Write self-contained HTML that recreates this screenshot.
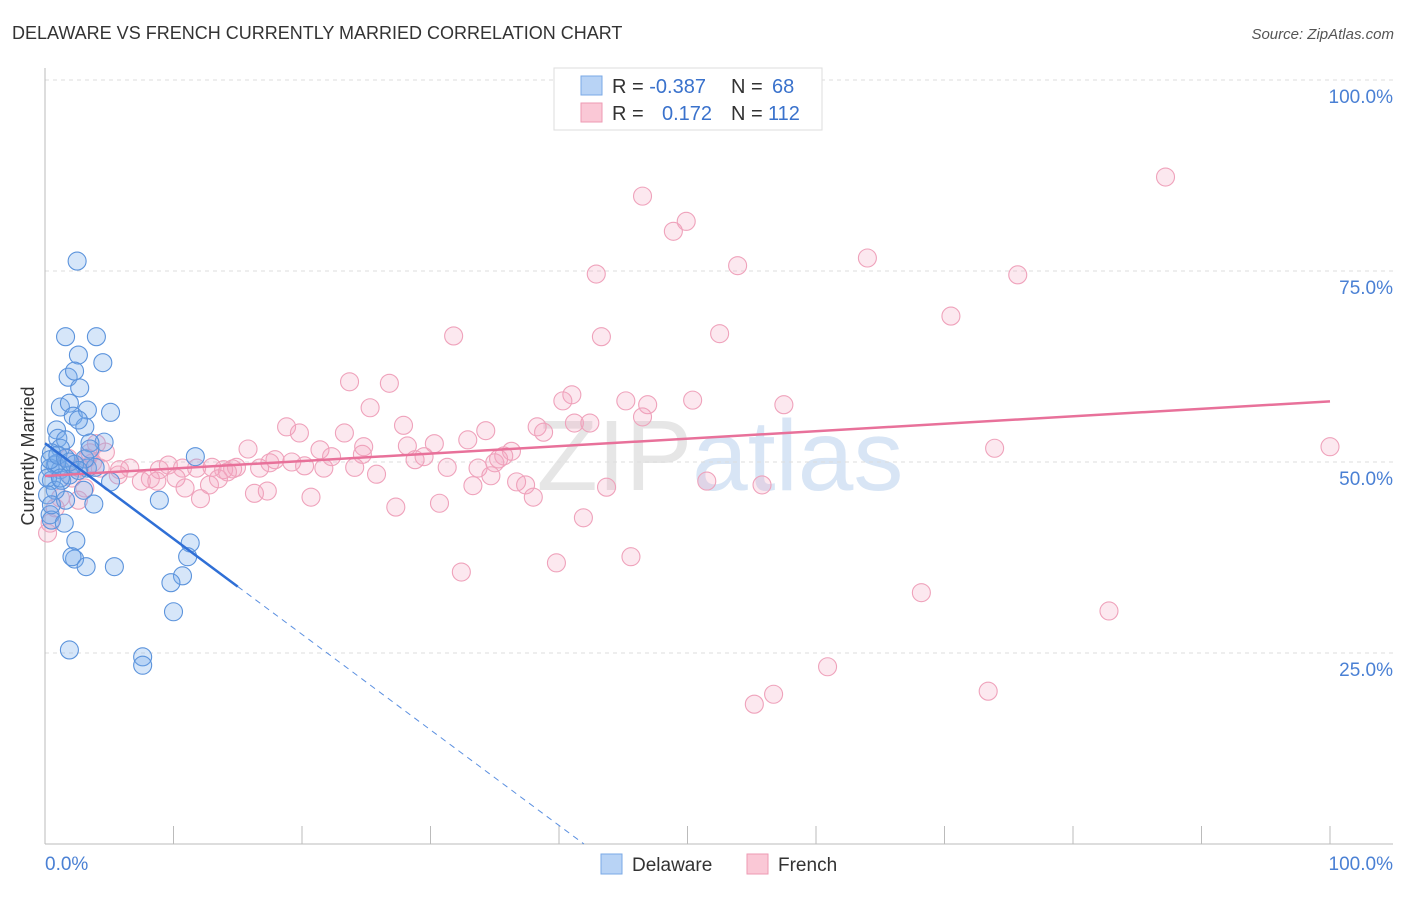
<!DOCTYPE html>
<html><head><meta charset="utf-8"><style>
body{margin:0;background:#fff;font-family:"Liberation Sans",sans-serif}
svg text{font-family:"Liberation Sans",sans-serif}
</style></head><body>
<svg width="1406" height="892" id="c">
<text x="12" y="39" font-size="18" fill="#333">DELAWARE VS FRENCH CURRENTLY MARRIED CORRELATION CHART</text>
<text x="1394" y="39" font-size="15" fill="#555" font-style="italic" text-anchor="end">Source: ZipAtlas.com</text>
<text x="34" y="456" font-size="18" fill="#333" text-anchor="middle" transform="rotate(-90 34 456)">Currently Married</text>
<text x="720" y="490" font-size="100" fill="#e6e6e6" text-anchor="middle" font-family="Liberation Serif">ZIP<tspan fill="#d8e5f5" font-family="Liberation Sans">atlas</tspan></text>
<g id="grid"></g><g id="pts"></g><g id="lines"></g>
<g>
<rect x="554" y="68" width="268" height="62" fill="#fff" stroke="#ddd"/>
<rect x="581" y="76" width="21" height="19" fill="#b8d3f5" stroke="#7aa8e6"/>
<rect x="581" y="103" width="21" height="19" fill="#fac8d6" stroke="#ee9ab3"/>
<text x="612" y="93" font-size="20" fill="#333">R = <tspan fill="#3a72cc">-0.387</tspan><tspan x="731">N = </tspan><tspan fill="#3a72cc" x="772">68</tspan></text>
<text x="612" y="120" font-size="20" fill="#333">R = <tspan fill="#3a72cc" x="662">0.172</tspan><tspan x="731">N = </tspan><tspan fill="#3a72cc" x="768">112</tspan></text>
</g>
<g>
<rect x="601" y="854" width="21" height="20" fill="#b8d3f5" stroke="#7aa8e6"/>
<text x="632" y="871" font-size="19" fill="#333">Delaware</text>
<rect x="747" y="854" width="21" height="20" fill="#fac8d6" stroke="#ee9ab3"/>
<text x="778" y="871" font-size="19" fill="#333">French</text>
</g>
</svg>
<script>
const blueX=[2.5,1.6,4.0,2.6,4.5,1.8,2.3,2.7,1.2,1.9,2.2,3.3,5.1,3.1,2.6,0.9,1.0,1.6,4.6,3.5,1.2,0.5,11.7,0.8,1.2,0.4,3.3,3.9,0.5,1.3,1.9,3.0,5.1,8.9,3.8,1.6,0.4,0.5,1.5,2.4,2.3,2.1,3.2,5.4,11.3,11.1,10.7,9.8,10.0,1.9,7.6,7.6,0.9,0.2,3.1,3.5,0.8,0.4,1.0,1.6,2.3,0.2,0.5,1.9,2.6,1.2];
const blueY=[76.3,66.4,66.4,64.0,63.0,61.1,61.9,59.7,57.2,57.7,56.0,56.8,56.5,54.6,55.5,54.2,53.1,52.9,52.6,52.5,51.8,51.2,50.7,49.6,49.0,49.2,49.2,49.3,47.6,47.6,48.3,46.3,47.4,45.0,44.5,45.0,43.1,42.4,42.0,39.7,37.3,37.6,36.3,36.3,39.4,37.6,35.1,34.2,30.4,25.4,24.5,23.4,49.8,47.9,50.4,51.7,46.3,50.3,50.9,50.5,49.7,45.7,44.4,50.0,48.9,47.9];
const pinkX=[46.5,49.9,48.9,87.2,42.9,53.9,64.0,75.7,31.8,43.3,52.5,70.5,23.7,26.8,41.0,40.3,45.2,50.4,46.9,57.5,25.3,46.5,41.2,42.4,27.9,18.8,19.8,38.3,38.8,34.3,23.3,32.9,15.8,28.2,24.8,30.3,21.4,22.3,24.7,36.3,35.7,73.9,100,17.9,19.2,20.2,17.5,28.8,29.5,31.3,33.7,35.0,35.3,13.0,14.6,13.9,14.9,16.7,21.7,24.1,9.6,10.7,11.8,8.9,8.2,6.6,5.8,5.7,7.5,8.7,10.2,10.9,12.8,13.5,14.2,12.1,16.3,17.3,20.7,25.8,27.3,30.7,33.3,34.7,36.7,37.4,38.0,43.7,51.5,55.8,41.9,32.4,39.8,45.6,68.2,82.8,60.9,56.7,55.2,73.4,4.7,4.0,3.5,2.7,2.1,1.8,3.1,1.2,0.8,0.4,0.2,2.6,4.3,3.7,3.3];
const pinkY=[84.8,81.5,80.2,87.3,74.6,75.7,76.7,74.5,66.5,66.4,66.8,69.1,60.5,60.3,58.8,58.0,58.0,58.1,57.5,57.5,57.1,55.9,55.1,55.1,54.8,54.6,53.8,54.6,53.9,54.1,53.8,52.9,51.7,52.1,52.0,52.4,51.6,50.7,51.0,51.4,50.8,51.8,52.0,50.3,50.0,49.5,49.9,50.3,50.7,49.3,49.2,49.9,50.4,49.3,49.1,49.0,49.3,49.2,49.2,49.3,49.6,49.2,49.2,49.0,47.8,49.2,49.0,48.3,47.5,47.5,47.9,46.6,47.0,47.8,48.7,45.2,45.9,46.2,45.4,48.4,44.1,44.6,46.9,48.2,47.4,47.0,45.4,46.7,47.5,47.0,42.7,35.6,36.8,37.6,32.9,30.5,23.2,19.6,18.3,20.0,51.3,52.4,51.2,49.2,47.9,50.5,46.6,45.3,44.0,42.0,40.7,45.0,49.2,49.9,50.5];
const yTicks=[25,50,75,100];
const yTickLabels=["25.0%","50.0%","75.0%","100.0%"];
const NS="http://www.w3.org/2000/svg";
const sx=v=>45+v*12.85, sy=v=>844-v*7.64;
function mk(t,a,p){const e=document.createElementNS(NS,t);for(const k in a)e.setAttribute(k,a[k]);p.appendChild(e);return e;}
const grid=document.getElementById('grid');
yTicks.forEach((t,i)=>{
 const l=mk('line',{x1:45,x2:1393,y1:sy(t),y2:sy(t),stroke:'#ddd','stroke-dasharray':'4,4'},grid);
 
 
 const tx=mk('text',{x:1393,y:sy(t)+23,'font-size':19,fill:'#4a80d4','text-anchor':'end'},grid);
 tx.textContent=yTickLabels[i];
 
 
});
const ax=mk('line',{x1:45,x2:45,y1:68,y2:844,stroke:'#bbb'},grid);


const bx=mk('line',{x1:45,x2:1393,y1:844,y2:844,stroke:'#bbb'},grid);


for(let k=1;k<=10;k++){const t=mk('line',{x1:sx(k*10),x2:sx(k*10),y1:826,y2:844,stroke:'#bbb'},grid);
 
 }
[[0,"0.0%",'start',45],[100,"100.0%",'end',1393]].forEach(d=>{const t=mk('text',{x:d[3],y:870,'font-size':19,fill:'#4a80d4','text-anchor':d[2]},grid);t.textContent=d[1];
 
 });
const pts=document.getElementById('pts');
pinkX.forEach((x,i)=>{const c=mk('circle',{cx:sx(x),cy:sy(pinkY[i]),r:9,fill:'rgba(244,165,192,0.25)',stroke:'#efa2bb','stroke-width':1.1},pts);
 
 });
blueX.forEach((x,i)=>{const c=mk('circle',{cx:sx(x),cy:sy(blueY[i]),r:9,fill:'rgba(120,172,235,0.3)',stroke:'#5b93dc','stroke-width':1.1},pts);
 
 });
function fit(X,Y){const n=X.length;let mx=0,my=0;X.forEach((v,i)=>{mx+=v;my+=Y[i]});mx/=n;my/=n;let sxy=0,sxx=0;X.forEach((v,i)=>{sxy+=(v-mx)*(Y[i]-my);sxx+=(v-mx)**2});const b=sxy/sxx;return [my-b*mx,b];}
const lines=document.getElementById('lines');
const [pa,pb]=fit(pinkX,pinkY);
const pl=mk('line',{x1:sx(0),y1:sy(pa),x2:sx(100),y2:sy(pa+pb*100),stroke:'#e8719a','stroke-width':2.5},lines);


const [ba,bb]=fit(blueX,blueY);
const xEnd=15, x0=-ba/bb;
const bl=mk('line',{x1:sx(0),y1:sy(ba),x2:sx(xEnd),y2:sy(ba+bb*xEnd),stroke:'#2f6fd6','stroke-width':2.5},lines);


const bd=mk('line',{x1:sx(xEnd),y1:sy(ba+bb*xEnd),x2:sx(x0),y2:sy(0),stroke:'#5a8fe0','stroke-width':1,'stroke-dasharray':'6,5'},lines);


</script>
</body></html>
